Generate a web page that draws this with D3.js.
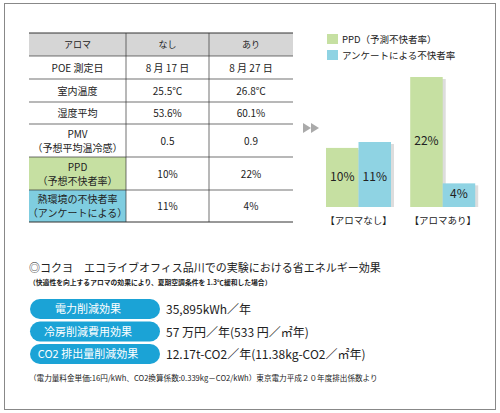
<!DOCTYPE html>
<html><head><meta charset="utf-8">
<script src="https://cdn.jsdelivr.net/npm/d3@7"></script>
<style>body{margin:0;background:#fff}text{font-family:"Noto Sans CJK JP",sans-serif;fill:#222}</style>
</head><body><svg id="chart" width="500" height="413"></svg>
<script>
const header = ["アロマ", "なし", "あり"];
const rows = [
  [["POE 測定日"], "8 月 17 日", "8 月 27 日"],
  [["室内温度"], "25.5℃", "26.8℃"],
  [["湿度平均"], "53.6%", "60.1%"],
  [["PMV", "（予想平均温冷感）"], "0.5", "0.9"],
  [["PPD", "（予想不快者率）"], "10%", "22%"],
  [["熱環境の不快者率", "（アンケートによる）"], "11%", "4%"]
];
const rowHeights = [23, 23, 22, 33, 33, 32];
const groups = ["【アロマなし】", "【アロマあり】"];
const series = ["PPD（予測不快者率）", "アンケートによる不快者率"];
const ppd = [10, 22];
const survey = [11, 4];
const effects = [
  ["電力削減効果", "35,895kWh／年"],
  ["冷房削減費用効果", "57 万円／年(533 円／㎡年)"],
  ["CO2 排出量削減効果", "12.17t-CO2／年(11.38kg-CO2／㎡年)"]
];

const svg = d3.select("#chart");
const green = "#c6e0a2", blue = "#8fd3e3", gray = "#d6d6d6";
svg.append("rect").attr("x", 4.5).attr("y", 3.5).attr("width", 491).attr("height", 406)
  .attr("fill", "none").attr("stroke", "#888");

// table
const cols = [29, 126, 209, 293];
const t = svg.append("g");
t.append("rect").attr("x", 29).attr("y", 33).attr("width", 264).attr("height", 23).attr("fill", gray);
header.forEach((h, i) => t.append("text").attr("x", (cols[i] + cols[i + 1]) / 2).attr("y", 48)
  .attr("text-anchor", "middle").attr("font-size", 9).text(h));
let y = 56;
const lines = [33, 56];
rows.forEach((r, ri) => {
  const h = rowHeights[ri];
  if (ri === 4) t.append("rect").attr("x", 29).attr("y", y).attr("width", 97).attr("height", h).attr("fill", green);
  if (ri === 5) t.append("rect").attr("x", 29).attr("y", y).attr("width", 97).attr("height", h).attr("fill", "#7fcde0");
  const cy = y + h / 2;
  r[0].forEach((s, k) => t.append("text").attr("x", 77.5)
    .attr("y", cy + 4 + (r[0].length === 2 ? (k ? 7 : -7) : 0))
    .attr("text-anchor", "middle").attr("font-size", 10).text(s));
  [r[1], r[2]].forEach((s, k) => t.append("text").attr("x", (cols[k + 1] + cols[k + 2]) / 2).attr("y", cy + 4)
    .attr("text-anchor", "middle").attr("font-size", 10).text(s));
  y += h; lines.push(y);
});
lines.forEach(ly => t.append("line").attr("x1", 29).attr("x2", 293).attr("y1", ly).attr("y2", ly)
  .attr("stroke", "#333").attr("stroke-width", ly === 33 || ly === 222 ? 1 : 0.7));
[126, 209].forEach(lx => t.append("line").attr("x1", lx).attr("x2", lx).attr("y1", 33).attr("y2", 222)
  .attr("stroke", "#333").attr("stroke-width", 0.7));

// arrows
[303, 311].forEach(ax => svg.append("path").attr("d", `M${ax},123 L${ax + 8},128 L${ax},133Z`).attr("fill", "#aaa"));

// legend
series.forEach((s, i) => {
  svg.append("rect").attr("x", 327).attr("y", 34 + i * 16).attr("width", 11).attr("height", 10).attr("fill", i ? blue : green);
  svg.append("text").attr("x", 342).attr("y", 43 + i * 16).attr("font-size", 9.5).text(s);
});

// bars
const yS = d3.scaleLinear().domain([0, 22]).range([207, 77]);
const x0 = d3.scaleBand().domain(groups).range([326, 486]).paddingInner(0.1).paddingOuter(0);
const g = svg.append("g");
groups.forEach((gr, i) => {
  const bx = x0(gr), bw = 32.5;
  [[ppd[i], green], [survey[i], blue]].forEach(([v, c], k) => {
    const x = bx + k * bw;
    g.append("rect").attr("x", x + 3).attr("y", yS(v) + 2).attr("width", bw).attr("height", 207 - yS(v) - 2).attr("fill", "#ddd");
  });
  [[ppd[i], green], [survey[i], blue]].forEach(([v, c], k) => {
    const x = bx + k * bw;
    g.append("rect").attr("x", x).attr("y", yS(v)).attr("width", bw).attr("height", 207 - yS(v)).attr("fill", c);
    const ly = i === 1 && k === 0 ? yS(v) + 68 : (i === 1 ? yS(v) + 15 : 181);
    g.append("text").attr("x", x + bw / 2).attr("y", ly).attr("text-anchor", "middle").attr("font-size", 12).text(v + "%");
  });
  g.append("text").attr("x", bx + bw).attr("y", 224).attr("text-anchor", "middle").attr("font-size", 9.5).text(gr);
});

// bottom section
svg.append("text").attr("x", 29).attr("y", 272).attr("font-size", 11).text("◎コクヨ　エコライブオフィス品川での実験における省エネルギー効果");
svg.append("text").attr("x", 29).attr("y", 285).attr("font-size", 6.8).attr("font-weight", "bold")
  .text("（快適性を向上するアロマの効果により、夏期空調条件を 1.3℃緩和した場合）");
effects.forEach((e, i) => {
  const py = 299 + i * 22.5;
  svg.append("rect").attr("x", 30).attr("y", py).attr("width", 130).attr("height", 20).attr("rx", 10).attr("fill", "#1ba3d6");
  svg.append("text").attr("x", 88).attr("y", py + 14).attr("text-anchor", "middle").attr("font-size", 11)
    .style("fill", "#fff").text(e[0]);
  svg.append("text").attr("x", 166).attr("y", py + 15).attr("font-size", 12).text(e[1]);
});
svg.append("text").attr("x", 29).attr("y", 381).attr("font-size", 7.6)
  .text("（電力量料金単価:16円/kWh、CO2換算係数:0.339kg－CO2/kWh）東京電力平成２０年度排出係数より");
</script></body></html>
